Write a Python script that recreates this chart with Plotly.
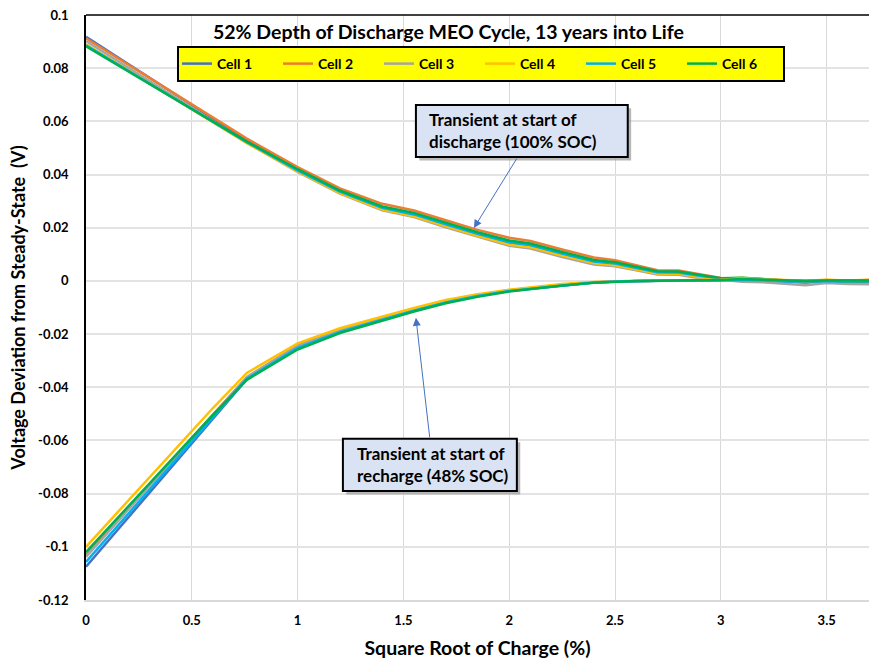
import plotly.graph_objects as go

X = [0, 0.3, 0.6, 0.76, 1.0, 1.2, 1.4, 1.55, 1.7, 1.85, 2.0, 2.1, 2.25, 2.4, 2.5,
     2.6, 2.7, 2.8, 2.9, 3.0, 3.1, 3.2, 3.3, 3.4, 3.5, 3.6, 3.7]

cells = ["Cell 1", "Cell 2", "Cell 3", "Cell 4", "Cell 5", "Cell 6"]
colors = ["#4472C4", "#ED7D31", "#A5A5A5", "#FFC000", "#00B0F0", "#00B050"]

# Transient at start of discharge (100% SOC)
dis_cell1 = [0.0918, 0.0763, 0.0608, 0.0528, 0.0418, 0.0338, 0.0277, 0.0252, 0.0212, 0.0177, 0.0143, 0.0133, 0.0100, 0.0070, 0.0062,
             0.0046, 0.0030, 0.0028, 0.0016, 0.0008, 0.0005, 0.0001, -0.0003, -0.0006, 0.0000, -0.0004, -0.0002]
dis_cell2 = [0.0912, 0.0762, 0.0612, 0.0535, 0.0428, 0.0348, 0.0290, 0.0265, 0.0228, 0.0192, 0.0162, 0.0150, 0.0118, 0.0088, 0.0078,
             0.0060, 0.0040, 0.0039, 0.0024, 0.0011, 0.0008, 0.0004, 0.0000, -0.0004, 0.0002, -0.0002, 0.0000]
dis_cell3 = [0.0902, 0.0750, 0.0598, 0.0520, 0.0410, 0.0328, 0.0266, 0.0240, 0.0202, 0.0166, 0.0132, 0.0122, 0.0090, 0.0062, 0.0055,
             0.0040, 0.0024, 0.0023, 0.0010, 0.0004, -0.0003, -0.0005, -0.0010, -0.0016, -0.0008, -0.0012, -0.0013]
dis_cell4 = [0.0890, 0.0742, 0.0594, 0.0518, 0.0412, 0.0330, 0.0268, 0.0243, 0.0206, 0.0170, 0.0137, 0.0127, 0.0095, 0.0067, 0.0059,
             0.0044, 0.0028, 0.0027, 0.0015, 0.0008, 0.0012, 0.0006, 0.0001, -0.0003, 0.0002, 0.0000, 0.0002]
dis_cell5 = [0.0886, 0.0742, 0.0597, 0.0522, 0.0416, 0.0336, 0.0275, 0.0250, 0.0213, 0.0177, 0.0145, 0.0135, 0.0103, 0.0073, 0.0065,
             0.0050, 0.0033, 0.0032, 0.0019, 0.0009, 0.0006, 0.0002, -0.0002, -0.0005, 0.0000, -0.0003, -0.0001]
dis_cell6 = [0.0882, 0.0740, 0.0598, 0.0524, 0.0420, 0.0340, 0.0280, 0.0256, 0.0219, 0.0183, 0.0152, 0.0141, 0.0109, 0.0079, 0.0070,
             0.0054, 0.0036, 0.0035, 0.0022, 0.0010, 0.0012, 0.0007, 0.0002, -0.0002, 0.0002, -0.0001, 0.0000]

# Transient at start of recharge (48% SOC)
rec_cell1 = [-0.1075, -0.0795, -0.0515, -0.0370, -0.0250, -0.0190, -0.0144, -0.0110, -0.0080, -0.0056, -0.0037, -0.0029, -0.0016, -0.0006, -0.0002,
             0.0000, 0.0001, 0.0002, 0.0002, 0.0003, 0.0006, 0.0004, 0.0002, 0.0000, 0.0002, 0.0001, 0.0002]
rec_cell2 = [-0.1030, -0.0765, -0.0500, -0.0362, -0.0242, -0.0184, -0.0139, -0.0106, -0.0076, -0.0053, -0.0035, -0.0027, -0.0014, -0.0005, -0.0002,
             0.0000, 0.0001, 0.0002, 0.0002, 0.0003, 0.0008, 0.0005, 0.0002, 0.0000, 0.0003, 0.0001, 0.0003]
rec_cell3 = [-0.1038, -0.0770, -0.0502, -0.0362, -0.0245, -0.0186, -0.0141, -0.0108, -0.0077, -0.0054, -0.0036, -0.0028, -0.0015, -0.0006, -0.0002,
             0.0000, 0.0001, 0.0001, 0.0002, 0.0002, 0.0006, 0.0004, 0.0001, -0.0001, 0.0002, 0.0000, 0.0001]
rec_cell4 = [-0.1000, -0.0738, -0.0478, -0.0346, -0.0235, -0.0178, -0.0133, -0.0102, -0.0072, -0.0050, -0.0033, -0.0025, -0.0012, -0.0004, -0.0001,
             0.0001, 0.0002, 0.0003, 0.0003, 0.0004, 0.0010, 0.0006, 0.0003, 0.0001, 0.0004, 0.0002, 0.0004]
rec_cell5 = [-0.1057, -0.0785, -0.0512, -0.0368, -0.0252, -0.0192, -0.0146, -0.0112, -0.0081, -0.0057, -0.0038, -0.0030, -0.0016, -0.0006, -0.0002,
             0.0000, 0.0001, 0.0002, 0.0002, 0.0003, 0.0005, 0.0004, 0.0002, 0.0000, 0.0002, 0.0001, 0.0002]
rec_cell6 = [-0.1020, -0.0762, -0.0504, -0.0372, -0.0258, -0.0196, -0.0150, -0.0115, -0.0084, -0.0060, -0.0040, -0.0031, -0.0017, -0.0007, -0.0003,
             0.0000, 0.0001, 0.0002, 0.0002, 0.0003, 0.0007, 0.0004, 0.0002, 0.0000, 0.0002, 0.0001, 0.0002]

dis = [dis_cell1, dis_cell2, dis_cell3, dis_cell4, dis_cell5, dis_cell6]
rec = [rec_cell1, rec_cell2, rec_cell3, rec_cell4, rec_cell5, rec_cell6]

y_ticks = [0.1, 0.08, 0.06, 0.04, 0.02, 0, -0.02, -0.04, -0.06, -0.08, -0.1, -0.12]
y_tick_text = ["0.1", "0.08", "0.06", "0.04", "0.02", "0", "-0.02", "-0.04", "-0.06", "-0.08", "-0.1", "-0.12"]
x_ticks = [0, 0.5, 1, 1.5, 2, 2.5, 3, 3.5]
x_tick_text = ["0", "0.5", "1", "1.5", "2", "2.5", "3", "3.5"]

FONT = "Lato"


def bfont(size):
    return dict(family=FONT, size=size, color="black", weight="bold")


fig = go.Figure()
for i, name in enumerate(cells):
    fig.add_trace(go.Scatter(x=X, y=dis[i], mode="lines", name=name,
                             line=dict(color=colors[i], width=2.5), legendgroup=name))
for i, name in enumerate(cells):
    fig.add_trace(go.Scatter(x=X, y=rec[i], mode="lines", name=name, showlegend=False,
                             line=dict(color=colors[i], width=2.5), legendgroup=name))

fig.update_layout(
    width=869, height=659,
    margin=dict(l=86, r=0, t=15, b=59),
    paper_bgcolor="white", plot_bgcolor="white",
    font=bfont(13),
    showlegend=True,
    legend=dict(orientation="h", x=(177 - 86) / 783, y=(600 - 46) / 585, xanchor="left", yanchor="top",
                bgcolor="#FFFF00", bordercolor="black", borderwidth=2,
                font=bfont(14),
                entrywidth=56, entrywidthmode="pixels", itemwidth=30),
    xaxis=dict(range=[0, 3.7], tickvals=x_ticks, ticktext=x_tick_text,
               showgrid=True, gridcolor="#D9D9D9", gridwidth=1,
               zeroline=False, showline=True, linecolor="#D9D9D9", linewidth=1.5,
               ticks="", ticklabelstandoff=8, tickfont=bfont(13),
               title=dict(text="Square Root of Charge (%)", font=bfont(19.5), standoff=14)),
    yaxis=dict(range=[-0.12, 0.1], tickvals=y_ticks, ticktext=y_tick_text,
               showgrid=True, gridcolor="#E3E3E3", gridwidth=1.5,
               zeroline=False, showline=True, linecolor="black", linewidth=1.5,
               ticks="", ticklabelstandoff=13, tickfont=bfont(13),
               title=dict(text="Voltage Deviation from Steady-State  (V)", font=bfont(18), standoff=8)),
)

shapes = []
# top border of plot area
shapes.append(dict(type="line", xref="paper", yref="paper", x0=0, x1=1, y0=1, y1=1,
                   line=dict(color="black", width=1.5), layer="above"))
# callout boxes with shadows
boxes = [
    (1.559, 2.560, 0.0466, 0.0662),
    (1.214, 2.036, -0.0790, -0.0594),
]
for x0, x1, y0, y1 in boxes:
    shapes.append(dict(type="rect", xref="x", yref="y", x0=x0 + 0.016, x1=x1 + 0.016,
                       y0=y0 - 0.0013, y1=y1 - 0.0013, fillcolor="#9A9A9A",
                       line=dict(width=0), layer="above", opacity=0.7))
    shapes.append(dict(type="rect", xref="x", yref="y", x0=x0, x1=x1, y0=y0, y1=y1,
                       fillcolor="#DAE3F3", line=dict(color="black", width=2), layer="above"))
fig.update_layout(shapes=shapes)

annotations = [
    dict(text="52% Depth of Discharge MEO Cycle, 13 years into Life", xref="paper", yref="paper",
         x=(448 - 86) / 783, y=(600 - 31) / 585, xanchor="center", yanchor="middle", showarrow=False,
         font=bfont(19.5)),
    dict(text="Transient at start of<br>discharge (100% SOC)", xref="x", yref="y",
         x=1.611, y=0.0564, xanchor="left", yanchor="middle", align="left", showarrow=False,
         font=bfont(17)),
    dict(text="Transient at start of<br>recharge (48% SOC)", xref="x", yref="y",
         x=1.271, y=-0.0692, xanchor="left", yanchor="middle", align="left", showarrow=False,
         font=bfont(17)),
    dict(text="", xref="x", yref="y", x=1.833, y=0.0199, axref="x", ayref="y", ax=2.04, ay=0.0466,
         showarrow=True, arrowhead=2, arrowsize=1.6, arrowwidth=1, arrowcolor="#4472C4"),
    dict(text="", xref="x", yref="y", x=1.559, y=-0.0139, axref="x", ayref="y", ax=1.625, ay=-0.0594,
         showarrow=True, arrowhead=2, arrowsize=1.6, arrowwidth=1, arrowcolor="#4472C4"),
]
fig.update_layout(annotations=annotations)

fig.write_html("out.html", config={"displayModeBar": False},
               post_script="document.body.style.margin='0';document.body.style.overflow='hidden';")
